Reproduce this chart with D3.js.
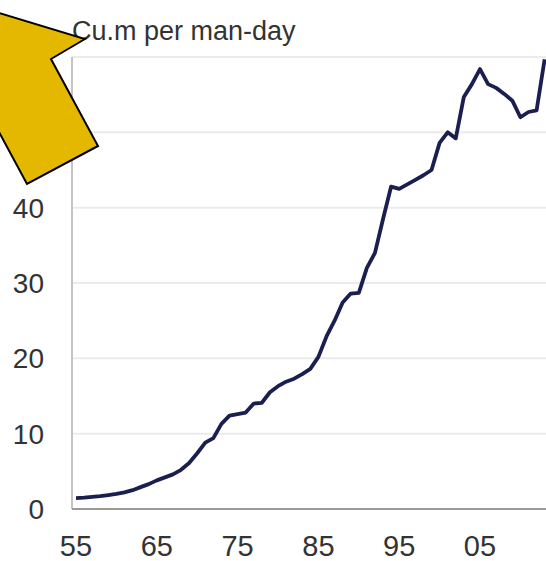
<!DOCTYPE html>
<html>
<head>
<meta charset="utf-8">
<script src="https://cdn.jsdelivr.net/npm/d3@7"></script>
<style>
  body { margin: 0; background: #fff; }
  svg { display: block; font-family: "Liberation Sans", Arial, sans-serif; }
</style>
</head>
<body>
<svg id="chart" width="546" height="561"></svg>
<script>
// productivity, cubic metres per man-day, by year
var years = d3.range(1955, 2014);
var values = [1.45, 1.5, 1.6, 1.7, 1.85, 2.0, 2.2, 2.5, 2.9, 3.3,
              3.8, 4.2, 4.6, 5.2, 6.1, 7.4, 8.8, 9.4, 11.3, 12.4,
              12.6, 12.8, 14.0, 14.1, 15.5, 16.3, 16.9, 17.3, 17.9, 18.6,
              20.2, 22.9, 25.0, 27.4, 28.6, 28.7, 32.0, 34.0, 38.5, 42.8,
              42.5, 43.1, 43.7, 44.3, 45.0, 48.6, 50.0, 49.2, 54.7, 56.4,
              58.4, 56.4, 55.9, 55.1, 54.2, 52.0, 52.7, 52.9, 59.7];
var xTicks = [1955, 1965, 1975, 1985, 1995, 2005];
var yTicks = [0, 10, 20, 30, 40, 50, 60];
var yLabels = [0, 10, 20, 30, 40];
var title = "Cu.m per man-day";

(function(){
    var svg = d3.select("#chart");
    var plotLeft = 72, plotRight = 546, plotTop = 57, plotBottom = 509;

    var x = d3.scaleLinear().domain([1955, 2005]).range([76, 480]);
    var y = d3.scaleLinear().domain([0, 60]).range([plotBottom, plotTop]);

    // gridlines
    svg.selectAll(".grid")
        .data(yTicks.slice(1))
        .enter().append("line")
        .attr("x1", plotLeft).attr("x2", plotRight)
        .attr("y1", function(d) { return y(d); })
        .attr("y2", function(d) { return y(d); })
        .style("stroke", "#ebebeb")
        .style("stroke-width", 2);

    // axis lines
    svg.append("line")
        .attr("x1", plotLeft).attr("x2", plotLeft).attr("y1", plotTop).attr("y2", plotBottom)
        .style("stroke", "#c4c4c4").style("stroke-width", 2);
    svg.append("line")
        .attr("x1", plotLeft).attr("x2", plotRight).attr("y1", plotBottom).attr("y2", plotBottom)
        .style("stroke", "#9a9a9a").style("stroke-width", 2);

    // y labels
    svg.selectAll(".yLabel")
        .data(yLabels)
        .enter().append("text")
        .text(function(d) { return d; })
        .attr("x", 44)
        .attr("y", function(d) { return y(d) + 10; })
        .style("text-anchor", "end")
        .style("font-size", "28px")
        .style("fill", "#333");

    // x labels
    svg.selectAll(".xLabel")
        .data(xTicks)
        .enter().append("text")
        .text(function(d) { return String(d).slice(2); })
        .attr("x", function(d) { return x(d); })
        .attr("y", 556)
        .style("text-anchor", "middle")
        .style("font-size", "29px")
        .style("fill", "#333");

    // series
    var line = d3.line()
        .x(function(d, i) { return x(years[i]); })
        .y(function(d) { return y(d); });

    svg.append("path")
        .datum(values)
        .attr("d", line)
        .style("fill", "none")
        .style("stroke", "#1b1f4f")
        .style("stroke-width", 3.8)
        .style("stroke-linejoin", "round");

    // title
    svg.append("text")
        .text(title)
        .attr("x", 72)
        .attr("y", 40)
        .style("font-size", "27px")
        .style("fill", "#333");

    // yellow arrow pointing at the title
    var arrow = [[85, 39], [51, 59], [98, 146], [27, 184], [-30, 78], [-60, -5]];
    svg.append("polygon")
        .attr("points", arrow.map(function(p) { return p.join(","); }).join(" "))
        .style("fill", "#e5b800")
        .style("stroke", "#000")
        .style("stroke-width", 2);
})();
</script>
</body>
</html>
